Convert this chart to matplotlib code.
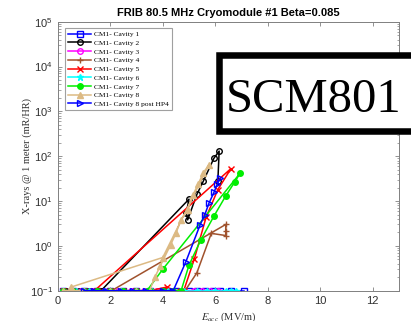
import matplotlib
matplotlib.use("Agg")
import matplotlib.pyplot as plt
from matplotlib.patches import Rectangle

plt.rcParams["font.family"] = ["Liberation Sans", "DejaVu Sans"]
plt.rcParams["mathtext.fontset"] = "stix"

# cavity data, E_acc (MV/m) vs x-rays (mR/HR)
cav1_x = [0.2, 0.6, 1.0, 1.5, 2.0, 2.5, 3.0, 3.5, 4.0, 4.5, 5.0, 5.3, 5.6, 5.9, 6.2, 6.6, 7.1]
cav1_y = [0.1] * len(cav1_x)

cav2_x = [0.3, 0.8, 1.2, 1.65, 5.0, 4.9, 4.95, 5.3, 5.55, 5.95, 6.15, 6.1]
cav2_y = [0.1, 0.1, 0.1, 0.1, 11, 5.5, 3.8, 14, 28, 90, 130, 28]

cav3_x = [0.2, 0.5, 0.9, 1.3, 1.8, 2.3, 2.8, 3.3, 3.8, 4.3, 4.8, 5.2, 5.5, 5.8, 6.1]
cav3_y = [0.1] * len(cav3_x)

cav4_x = [0.2, 0.6, 1.0, 1.5, 2.05, 6.4, 6.4, 6.4, 5.85, 5.3, 4.85]
cav4_y = [0.1, 0.1, 0.1, 0.1, 0.1, 3.0, 2.2, 1.7, 1.9, 0.25, 0.1]

cav5_x = [0.2, 0.6, 1.0, 1.5, 2.0, 2.5, 3.0, 3.5, 4.15, 4.5, 4.8, 5.2, 5.65, 6.1, 6.6, 1.4]
cav5_y = [0.1, 0.1, 0.1, 0.1, 0.1, 0.1, 0.1, 0.1, 0.12, 0.1, 0.1, 0.5, 4.3, 18, 53, 0.1]

cav6_x = [0.2, 0.7, 1.2, 1.8, 2.4, 3.0, 3.6, 4.2, 4.8, 5.3, 5.7, 6.0, 6.4, 6.6, 6.8]
cav6_y = [0.1] * len(cav6_x)

cav7_x = [0.2, 0.6, 1.0, 1.5, 2.0, 2.5, 3.0, 3.5, 4.0, 4.4, 4.7, 5.0, 5.45, 5.95, 6.4, 6.75, 6.95, 4.0, 3.4]
cav7_y = [0.1, 0.1, 0.1, 0.1, 0.1, 0.1, 0.1, 0.1, 0.1, 0.1, 0.1, 0.37, 1.35, 4.6, 13, 27, 42, 0.3, 0.1]

cav8_x = [0.2, 0.5, 1.0, 2.0, 3.0, 3.5, 3.7, 3.9, 4.3, 4.5, 4.7, 4.95, 5.15, 5.35, 5.55, 5.75, 4.0, 0.5]
cav8_y = [0.1, 0.1, 0.1, 0.1, 0.1, 0.1, 0.2, 0.35, 1.05, 1.9, 3.8, 6.3, 13.5, 24, 43, 63, 0.55, 0.12]

cav8p_x = [1.0, 1.4, 1.85, 2.4, 2.85, 3.35, 4.0, 4.4, 4.88, 5.42, 5.6, 5.76, 5.95, 6.08, 6.18]
cav8p_y = [0.1, 0.1, 0.1, 0.1, 0.1, 0.1, 0.1, 0.1, 0.44, 2.9, 4.9, 8.9, 15.5, 24, 32]

labels = ["CM1- Cavity 1", "CM1- Cavity 2", "CM1- Cavity 3", "CM1- Cavity 4",
          "CM1- Cavity 5", "CM1- Cavity 6", "CM1- Cavity 7", "CM1- Cavity 8",
          "CM1- Cavity 8 post HP4"]

fig = plt.figure(figsize=(4.11, 3.21), dpi=100)
ax = fig.add_axes([0.1404, 0.0944, 0.8304, 0.838])

lw = 1.1
ms = 4
ax.plot(cav1_x, cav1_y, color="#0000ff", marker="s", mfc="none", ms=ms, lw=lw, label=labels[0])
ax.plot(cav2_x, cav2_y, color="black", marker="o", mfc="none", ms=ms, lw=lw, label=labels[1])
ax.plot(cav3_x, cav3_y, color="#ff00ff", marker="o", mfc="none", ms=ms, lw=lw, label=labels[2])
ax.plot(cav4_x, cav4_y, color="#a0522d", marker="+", ms=ms + 1, lw=lw, label=labels[3])
ax.plot(cav5_x, cav5_y, color="#ff0000", marker="x", ms=ms, lw=lw, label=labels[4])
ax.plot(cav6_x, cav6_y, color="#00ffff", marker="*", ms=ms + 1, lw=lw, label=labels[5])
ax.plot(cav7_x, cav7_y, color="#00ee00", marker="o", ms=ms, lw=lw, label=labels[6])
ax.plot(cav8_x, cav8_y, color="#dcba84", marker="^", ms=ms, lw=lw, label=labels[7])
ax.plot(cav8p_x, cav8p_y, color="#0000ff", marker=">", mfc="none", ms=ms, lw=lw, label=labels[8])

ax.set_yscale("log")
ax.set_xlim(0, 13)
ax.set_ylim(0.1, 1e5)
ax.set_xticks([0, 2, 4, 6, 8, 10, 12])

for s in ax.spines.values():
    s.set_color("#808080")
    s.set_linewidth(0.7)
ax.tick_params(which="both", direction="in", top=True, right=True,
               colors="#808080", labelcolor="#303030", labelsize=8)
ax.tick_params(which="major", length=3, width=0.6)
ax.tick_params(which="minor", length=1.8, width=0.5)
ax.tick_params(axis="x", pad=4)

ax.set_title("FRIB 80.5 MHz Cryomodule #1 Beta=0.085", fontsize=8, fontweight="bold", pad=4)
ax.set_ylabel("X-rays @ 1 meter (mR/HR)", family="Liberation Serif", fontsize=7.5, color="#303030")
ax.yaxis.set_label_coords(-0.075, 0.5)
ax.set_xlabel(r"$E_{acc}$ (MV/m)", family="Liberation Serif", fontsize=7.5, color="#303030", labelpad=3)

leg = ax.legend(loc="upper left", bbox_to_anchor=(0.0214, 0.9766), borderaxespad=0,
                prop={"family": "Liberation Serif", "size": 5.4}, fancybox=False,
                edgecolor="#a0a0a0", framealpha=1, labelspacing=0.33,
                handlelength=3.1, handletextpad=0.4, borderpad=0.4)
leg.get_frame().set_linewidth(0.8)

box = Rectangle((0.532, 0.593), 0.52, 0.235, transform=fig.transFigure,
                fill=True, facecolor="white", edgecolor="black", linewidth=4.7, clip_on=False)
fig.add_artist(box)
fig.text(0.764, 0.651, "SCM801", family="Liberation Serif", fontsize=35,
         ha="center", va="baseline", color="black")

fig.savefig("out.png", dpi=100)
